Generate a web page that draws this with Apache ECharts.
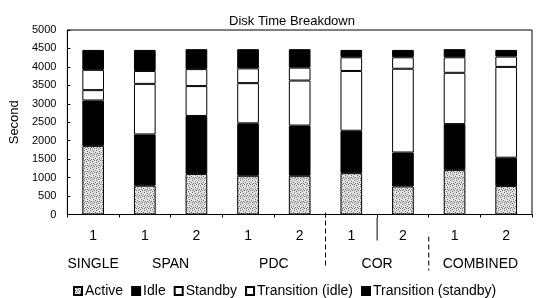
<!DOCTYPE html>
<html>
<head>
<meta charset="utf-8">
<script src="https://cdn.jsdelivr.net/npm/echarts@6/dist/echarts.min.js"></script>
<style>
html,body{margin:0;padding:0;background:#fff;}
#main{width:536px;height:298px;}
</style>
</head>
<body>
<div id="main"></div>
<script>
// ---- data ----
const categories = ['1', '1', '2', '1', '2', '1', '2', '1', '2'];
const groupNames = ['SINGLE', 'SPAN', 'PDC', 'COR', 'COMBINED'];
const groupCenters = [0.5, 2, 4, 6, 8];
const seriesNames = ['Active', 'Idle', 'Standby', 'Transition (idle)', 'Transition (standby)'];
const active = [1860, 780, 1100, 1050, 1050, 1120, 760, 1210, 770];
const idle = [1230, 1390, 1570, 1420, 1360, 1150, 920, 1240, 770];
const standby = [280, 1370, 810, 1090, 1220, 1620, 2270, 1390, 2460];
const transIdle = [550, 350, 460, 400, 350, 370, 310, 420, 280];
const transStandby = [540, 570, 540, 520, 500, 200, 200, 220, 180];
const yMin = 0, yMax = 5000, yInterval = 500;
const titleText = 'Disk Time Breakdown';
const yName = 'Second';

// ---- stipple pattern for "Active" ----
const pat = document.createElement('canvas');
pat.width = 6; pat.height = 6;
const pctx = pat.getContext('2d');
pctx.fillStyle = '#e2e2e2';
pctx.fillRect(0, 0, 6, 6);
pctx.fillStyle = '#6f6f6f';
[[0,0],[3,1],[1,3],[4,4],[2,5],[5,2],[0,4],[3,3]].forEach(p => pctx.fillRect(p[0], p[1], 1, 1));

const FONT = 'Liberation Sans, Arial, sans-serif';
const chart = echarts.init(document.getElementById('main'), null, {renderer: 'canvas'});

const fills = [{image: pat, repeat: 'repeat'}, '#000000', '#ffffff', '#ffffff', '#000000'];
const datas = [active, idle, standby, transIdle, transStandby];

const series = datas.map((d, i) => ({
  name: seriesNames[i],
  type: 'bar',
  stack: 'total',
  xAxisIndex: 0,
  barWidth: '42%',
  data: d,
  itemStyle: {color: fills[i], borderColor: '#000', borderWidth: 1},
  emphasis: {disabled: true},
  animation: false
}));

chart.setOption({
  animation: false,
  title: {
    text: titleText, left: 287, top: 10, textAlign: 'center',
    textStyle: {fontFamily: FONT, fontSize: 13, fontWeight: 'normal', color: '#000'}
  },
  legend: {
    data: seriesNames, left: 68, top: 279, itemWidth: 8, itemHeight: 8, itemGap: 8,
    icon: 'rect',
    textStyle: {fontFamily: FONT, fontSize: 14, color: '#000', padding: [0, 0, 0, -2]}
  },
  grid: {
    left: 66, right: 4, top: 30, bottom: 83.5,
    show: true, borderColor: '#000', borderWidth: 1, backgroundColor: 'transparent'
  },
  xAxis: [
    {
      type: 'category', data: categories, position: 'bottom',
      axisLine: {lineStyle: {color: '#000', width: 1}},
      axisTick: {show: true, inside: false, length: 3, lineStyle: {color: '#000'}},
      axisLabel: {fontFamily: FONT, fontSize: 14, color: '#000', margin: 15}
    },
    {
      type: 'value', min: 0, max: 9, interval: 0.5, position: 'bottom',
      axisLine: {show: false}, axisTick: {show: false}, splitLine: {show: false},
      axisLabel: {
        fontFamily: FONT, fontSize: 14, color: '#000', margin: 43,
        showMinLabel: true, showMaxLabel: true, hideOverlap: false,
        formatter: v => { const k = groupCenters.indexOf(v); return k >= 0 ? groupNames[k] : ''; }
      }
    }
  ],
  yAxis: {
    type: 'value', min: yMin, max: yMax, interval: yInterval,
    name: yName, nameLocation: 'middle', nameGap: 42, nameRotate: 90,
    nameTextStyle: {fontFamily: FONT, fontSize: 13, color: '#000'},
    axisLine: {show: true, lineStyle: {color: '#000'}},
    axisTick: {show: true, inside: true, length: 3, lineStyle: {color: '#000'}},
    splitLine: {show: false},
    axisLabel: {fontFamily: FONT, fontSize: 11, color: '#000', margin: 11, formatter: v => String(v)}
  },
  series: series
});

// separator lines positioned through the group axis scale
function drawSeparators() {
  const x5 = chart.convertToPixel({xAxisIndex: 1}, 5);
  const x6 = chart.convertToPixel({xAxisIndex: 1}, 6);
  const x7 = chart.convertToPixel({xAxisIndex: 1}, 7);
  const y0 = chart.convertToPixel({yAxisIndex: 0}, 0);
  chart.setOption({
    graphic: [
      {type: 'line', shape: {x1: x5, y1: y0 - 2, x2: x5, y2: y0 + 54}, style: {stroke: '#000', lineWidth: 1, lineDash: [5, 3]}, silent: true},
      {type: 'line', shape: {x1: x6, y1: y0 + 3, x2: x6, y2: y0 + 26}, style: {stroke: '#000', lineWidth: 1}, silent: true},
      {type: 'line', shape: {x1: x7, y1: y0 + 22, x2: x7, y2: y0 + 56}, style: {stroke: '#000', lineWidth: 1, lineDash: [5, 3]}, silent: true}
    ]
  });
}
drawSeparators();
</script>
</body>
</html>
